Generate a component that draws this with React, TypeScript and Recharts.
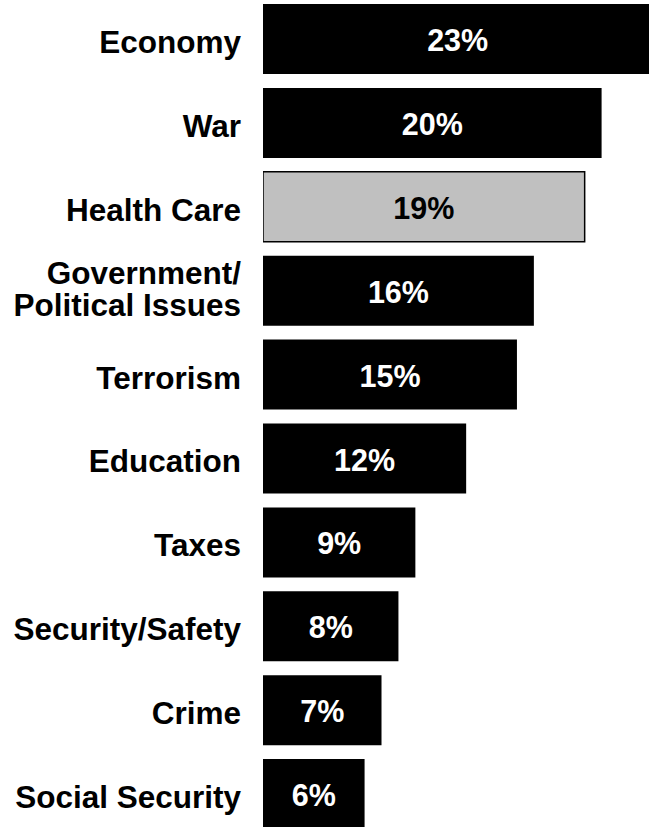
import React from 'react';
import { BarChart, Bar, XAxis, YAxis, Cell, LabelList } from 'recharts';

const issues = [
  'Economy',
  'War',
  'Health Care',
  'Government/\nPolitical Issues',
  'Terrorism',
  'Education',
  'Taxes',
  'Security/Safety',
  'Crime',
  'Social Security',
];
const shares = [23, 20, 19, 16, 15, 12, 9, 8, 7, 6];
const highlighted = 'Health Care';

const data = issues.map((issue, i) => ({ issue, share: shares[i] }));

const FONT = '"Liberation Sans", Arial, sans-serif';

const IssueTick = (props: any) => {
  const { x, y, payload } = props;
  const lines: string[] = String(payload.value).split('\n');
  const lineHeight = 32;
  const extra = lines.length - 1;
  const startY = y + 3 - (extra * lineHeight) / 2 - extra * 5;
  return (
    <text x={x} y={startY} textAnchor="end" fontFamily={FONT} fontWeight="bold" fontSize={31.5} fill="#000">
      {lines.map((line, i) => (
        <tspan key={i} x={x} y={startY + i * lineHeight} dominantBaseline="central">
          {line}
        </tspan>
      ))}
    </text>
  );
};

const ValueLabel = (props: any) => {
  const { x, y, width, height, value, index } = props;
  const isLight = issues[index] === highlighted;
  return (
    <text
      x={x + width / 2}
      y={y + height / 2 + 1}
      textAnchor="middle"
      dominantBaseline="central"
      fontFamily={FONT}
      fontWeight="bold"
      fontSize={30.5}
      fill={isLight ? '#000' : '#fff'}
    >
      {value}%
    </text>
  );
};

export default function App() {
  return (
    <div style={{ position: 'fixed', left: 0, top: 0, width: 649, height: 827, overflow: 'hidden', background: '#fff' }}>
      <div style={{ position: 'absolute', left: 0, top: -3 }}>
        <BarChart
          width={649}
          height={839}
          data={data}
          layout="vertical"
          margin={{ top: 0, right: 0, bottom: 0, left: 0 }}
          barCategoryGap={0}
        >
          <XAxis type="number" domain={[0, 22.8]} allowDataOverflow hide />
          <YAxis
            type="category"
            dataKey="issue"
            width={263}
            axisLine={false}
            tickLine={false}
            tickMargin={16}
            interval={0}
            tick={<IssueTick />}
          />
          <Bar dataKey="share" barSize={70} isAnimationActive={false}>
            {data.map((d) => (
              <Cell
                key={d.issue}
                fill={d.issue === highlighted ? '#c0c0c0' : '#000'}
                stroke="#000"
                strokeWidth={d.issue === highlighted ? 1.5 : 0}
              />
            ))}
            <LabelList dataKey="share" content={<ValueLabel />} />
          </Bar>
        </BarChart>
      </div>
    </div>
  );
}
